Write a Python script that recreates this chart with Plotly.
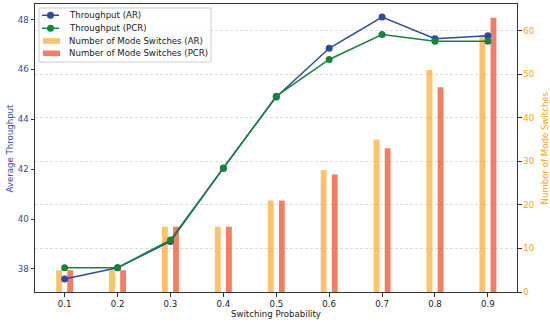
import plotly.graph_objects as go

prob = [0.1, 0.2, 0.3, 0.4, 0.5, 0.6, 0.7, 0.8, 0.9]
thr_ar = [37.6, 38.05, 39.1, 42.05, 44.9, 46.85, 48.1, 47.23, 47.35]
thr_pcr = [38.05, 38.05, 39.16, 42.03, 44.93, 46.4, 47.4, 47.13, 47.13]
sw_ar = [5, 5, 15, 15, 21, 28, 35, 51, 59]
sw_pcr = [5, 5, 15, 15, 21, 27, 33, 47, 63]
tick_labels = ["0.1", "0.2", "0.3", "0.4", "0.5", "0.6", "0.7", "0.8", "0.9"]
names = ["Throughput (AR)", "Throughput (PCR)",
         "Number of Mode Switches (AR)", "Number of Mode Switches (PCR)"]

BLUE = "#2c4aa0"
GREEN = "#17843a"
ORANGE = "#ffa500"
BAR_OR = "rgba(255,170,50,0.72)"
BAR_RD = "rgba(240,90,55,0.78)"
FONT = "DejaVu Sans"
FS = 8.6

W, H = 550, 322
L, R, T, B = 35, 33, 4, 30
PW, PH = W - L - R, H - T - B


def px(x):
    return (x - L) / PW


def py(y):
    return (H - B - y) / PH


fig = go.Figure()
# bars on the primary (right-side) axis so that the lines overlay them
fig.add_trace(go.Bar(x=prob, y=sw_ar, name=names[2], yaxis="y", showlegend=False,
                     width=0.011, offset=-0.016, marker=dict(color=BAR_OR, line=dict(width=0))))
fig.add_trace(go.Bar(x=prob, y=sw_pcr, name=names[3], yaxis="y", showlegend=False,
                     width=0.011, offset=0.005, marker=dict(color=BAR_RD, line=dict(width=0))))
fig.add_trace(go.Scatter(x=prob, y=thr_ar, mode="lines+markers", name=names[0], showlegend=False, yaxis="y2",
                         line=dict(color=BLUE, width=1.5), marker=dict(size=7, color=BLUE)))
fig.add_trace(go.Scatter(x=prob, y=thr_pcr, mode="lines+markers", name=names[1], showlegend=False, yaxis="y2",
                         line=dict(color=GREEN, width=1.5), marker=dict(size=7, color=GREEN)))

shapes = []
annotations = []
# custom legend box
shapes.append(dict(type="rect", xref="paper", yref="paper", x0=px(39), x1=px(211), y0=py(8), y1=py(62),
                   line=dict(color="#cccccc", width=1), fillcolor="rgba(255,255,255,0.85)", layer="above"))
rows = [15.3, 28.3, 41, 53.3]
for i, (nm, yy) in enumerate(zip(names, rows)):
    if i < 2:
        col = [BLUE, GREEN][i]
        shapes.append(dict(type="line", xref="paper", yref="paper", x0=px(42), x1=px(59), y0=py(yy), y1=py(yy),
                           line=dict(color=col, width=1.5), layer="above"))
        shapes.append(dict(type="circle", xref="paper", yref="paper", x0=px(47), x1=px(54), y0=py(yy + 3.5),
                           y1=py(yy - 3.5), line=dict(width=0), fillcolor=col, layer="above"))
    else:
        col = [BAR_OR, BAR_RD][i - 2]
        shapes.append(dict(type="rect", xref="paper", yref="paper", x0=px(43), x1=px(60), y0=py(yy + 2.8),
                           y1=py(yy - 2.8), line=dict(width=0), fillcolor=col, layer="above"))
    annotations.append(dict(text=nm, xref="paper", yref="paper", x=px(66.5), y=py(yy), xanchor="left",
                            yanchor="middle", showarrow=False, font=dict(size=FS, color="#222", family=FONT)))

# axis titles
annotations.append(dict(text="Switching Probability", xref="paper", yref="paper", x=0.5, y=py(314),
                        xanchor="center", yanchor="middle", showarrow=False,
                        font=dict(size=FS, color="#222", family=FONT)))
annotations.append(dict(text="Average Throughput", xref="paper", yref="paper", x=px(9.5), y=0.5,
                        xanchor="center", yanchor="middle", textangle=-90, showarrow=False,
                        font=dict(size=FS, color="#3348a8", family=FONT)))
annotations.append(dict(text="Number of Mode Switches", xref="paper", yref="paper", x=px(544.5), y=0.5,
                        xanchor="center", yanchor="middle", textangle=-90, showarrow=False,
                        font=dict(size=FS, color=ORANGE, family=FONT)))

fig.update_layout(
    width=W, height=H,
    margin=dict(l=L, r=R, t=T, b=B, autoexpand=False),
    paper_bgcolor="white", plot_bgcolor="white",
    font=dict(family=FONT, size=FS, color="#222"),
    barmode="overlay",
    showlegend=False,
    shapes=shapes, annotations=annotations,
    xaxis=dict(range=[0.044, 0.955], tickvals=prob, ticktext=tick_labels, automargin=False,
               showgrid=False, zeroline=False, ticks="outside", ticklen=3.5, tickcolor="#333",
               linecolor="#333", linewidth=1, mirror=True, showline=True,
               tickfont=dict(size=FS, color="#222")),
    yaxis2=dict(range=[37.075, 48.625], tickvals=[38, 40, 42, 44, 46, 48], automargin=False,
                overlaying="y", side="left",
                showgrid=False, zeroline=False, ticks="outside", ticklen=3.5, tickcolor="#333",
                linecolor="#333", linewidth=1, showline=True,
                tickfont=dict(size=FS, color="#3348a8")),
    yaxis=dict(range=[0, 66.15], tickvals=[0, 10, 20, 30, 40, 50, 60], side="right",
               automargin=False,
               showgrid=True, gridcolor="#d4d4d4", griddash="3px,2px", gridwidth=0.8, zeroline=False,
               ticks="outside", ticklen=3.5, tickcolor="#333", linecolor="#333", linewidth=1, showline=True,
               tickfont=dict(size=FS, color=ORANGE)),
)

fig.write_html("out.html", config={"displayModeBar": False, "staticPlot": True})

# remove the browser's default body margin so the figure fills the window exactly
with open("out.html", "r", encoding="utf-8") as f:
    html = f.read()
html = html.replace("<head>", "<head><style>html,body{margin:0;padding:0;overflow:hidden;}</style>", 1)
with open("out.html", "w", encoding="utf-8") as f:
    f.write(html)
